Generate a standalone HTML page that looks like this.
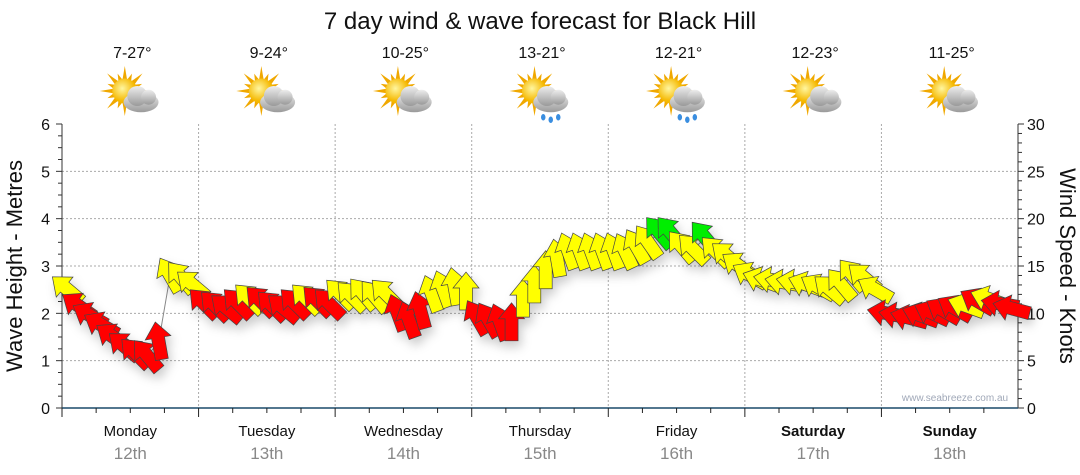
<!DOCTYPE html>
<html><head><meta charset="utf-8"><style>
html,body{margin:0;padding:0;background:#fff;width:1080px;height:475px;overflow:hidden}
svg{display:block;font-family:"Liberation Sans","DejaVu Sans",sans-serif}
</style></head><body>
<svg id="chart" width="1080" height="475" viewBox="0 0 1080 475">
<defs>
<filter id="sh" x="-50%" y="-50%" width="200%" height="200%"><feDropShadow dx="3" dy="6" stdDeviation="5" flood-color="#000" flood-opacity="0.2"/></filter>
<radialGradient id="sun" cx="40%" cy="40%"><stop offset="0" stop-color="#fff6a0"/><stop offset="1" stop-color="#f5b800"/></radialGradient>
<linearGradient id="cloud" x1="0" y1="0" x2="0" y2="1"><stop offset="0" stop-color="#eeeeee"/><stop offset="1" stop-color="#9a9a9a"/></linearGradient>
</defs>
<text x="540" y="29" text-anchor="middle" font-size="24" fill="#111">7 day wind &amp; wave forecast for Black Hill</text>
<g id="grid"></g><g id="axes"></g><g id="icons"></g>
<polyline id="conn" fill="none" stroke="#888" stroke-width="1"/>
<g id="marks" filter="url(#sh)"></g>
<text x="955" y="401" text-anchor="middle" font-size="10" fill="#a0a8b8">www.seabreeze.com.au</text>
<text transform="translate(22,266) rotate(-90)" text-anchor="middle" font-size="22" fill="#111">Wave Height - Metres</text>
<text transform="translate(1060,266) rotate(90)" text-anchor="middle" font-size="22" fill="#111">Wind Speed - Knots</text>
</svg>
<script>
const days=["Monday","Tuesday","Wednesday","Thursday","Friday","Saturday","Sunday"];
const dates=["12th","13th","14th","15th","16th","17th","18th"];
const temps=["7-27°","9-24°","10-25°","13-21°","12-21°","12-23°","11-25°"];
const rainy=[false,false,false,true,true,false,false];
const waveTicks=[0,1,2,3,4,5,6];
const windTicks=[0,5,10,15,20,25,30];
const heights=[2.5,2.15,1.95,1.75,1.5,1.3,1.15,1.1,1.4,2.8,2.75,2.6,
2.2,2.15,2.1,2.2,2.3,2.25,2.15,2.1,2.2,2.3,2.25,2.2,
2.4,2.35,2.4,2.35,2.4,2.0,1.85,2.05,2.4,2.5,2.55,2.45,
1.9,1.85,1.8,1.8,2.3,2.6,2.9,3.15,3.3,3.3,3.3,3.3,
3.3,3.3,3.4,3.5,3.7,3.7,3.4,3.35,3.6,3.3,3.2,3.0,
2.8,2.7,2.7,2.65,2.65,2.6,2.55,2.5,2.6,2.8,2.75,2.5,
2.0,1.95,1.9,1.95,2.0,2.05,2.1,2.15,2.25,2.3,2.2,2.1];
const speeds=[14,9,9,8,8,7,7,7,8,14,15,15,
9,9,9,9,13,9,9,9,9,13,9,9,
13,13,13,13,13,9,9,9,13,14,14,14,
9,9,8,8,13,14,15,15,15,16,16,16,
16,16,17,17,19,19,17,17,19,17,16,15,
14,14,14,13,13,13,13,14,14,15,15,13,
9,9,8,8,9,9,9,13,9,12,10,10];
const dirs=[-50,-55,-60,-60,-55,-50,-45,-40,-10,-30,-40,-50,
-45,-45,-50,-45,-45,-45,-45,-50,-45,-45,-45,-45,
-45,-45,-40,-40,-45,-20,-20,-15,-20,-20,-10,0,
-30,-30,-20,0,0,0,0,-10,-20,-20,-20,-20,
-20,-25,-30,-35,-40,-40,-40,-45,-40,-45,-50,-55,
-60,-70,-80,-80,-80,-70,-60,-50,-40,-40,-50,-60,
-80,-80,-75,-70,-65,-60,-60,-70,-60,-70,-80,-75];
const X0=62,X1=1018,Y0=408,Y1=124,DW=(X1-X0)/7,N=heights.length;
const xT=i=>X0+(i+0.5)*(X1-X0)/N;
const yW=h=>Y0-(h/6)*(Y0-Y1);
const yK=k=>Y0-(k/30)*(Y0-Y1);
const ns="http://www.w3.org/2000/svg";
function mk(t,a,p){const e=document.createElementNS(ns,t);for(const k in a)e.setAttribute(k,a[k]);p.appendChild(e);return e;}
const G=document.getElementById('grid'),A=document.getElementById('axes'),I=document.getElementById('icons'),M=document.getElementById('marks');
waveTicks.forEach(v=>{if(v>0&&v<6){const l=mk('line',{x1:X0,x2:X1,y1:yW(v),y2:yW(v),stroke:'#aaa','stroke-dasharray':'2,2'},G);}
 const t=mk('text',{x:50,y:yW(v)+6,'text-anchor':'end','font-size':16,fill:'#111'},A);t.textContent=v;
 });
windTicks.forEach(v=>{const t=mk('text',{x:1027,y:yK(v)+6,'font-size':16,fill:'#111'},A);t.textContent=v;
 });
for(let q=0;q<=24;q++){const y=yW(q/4);mk('line',{x1:X0-(q%4?4:6),x2:X0,y1:y,y2:y,stroke:'#333'},A);}
for(let k=0;k<=30;k++){const y=yK(k);mk('line',{x1:X1,x2:X1+(k%5?4:6),y1:y,y2:y,stroke:'#333'},A);}
mk('line',{x1:X0,x2:X0,y1:Y1,y2:Y0,stroke:'#333'},A);
mk('line',{x1:X1,x2:X1,y1:Y1,y2:Y0,stroke:'#333'},A);
mk('line',{x1:X0,x2:X1,y1:Y0,y2:Y0,stroke:'#1a4a6a','stroke-width':1.5},A);
for(let d=0;d<7;d++){
 const xs=X0+d*DW;
 if(d>0){const l=mk('line',{x1:xs,x2:xs,y1:Y1,y2:Y0,stroke:'#aaa','stroke-dasharray':'2,2'},G);}
 for(let q=0;q<4;q++){const x=xs+q*DW/4;mk('line',{x1:x,x2:x,y1:Y0,y2:Y0+(q?5:9),stroke:'#222'},A);}
 const cx=xs+DW/2;
 const t1=mk('text',{x:cx,y:436,'text-anchor':'middle','font-size':15,fill:'#111','font-weight':d>=5?'bold':'normal'},A);t1.textContent=days[d];
 
 const t2=mk('text',{x:cx,y:459,'text-anchor':'middle','font-size':17,fill:'#888'},A);t2.textContent=dates[d];
 
 const t3=mk('text',{x:cx+2,y:58,'text-anchor':'middle','font-size':16,fill:'#111'},I);t3.textContent=temps[d];
 
 const g=mk('g',{transform:`translate(${cx+2},96) scale(1.25)`},I);
 
 for(let r=0;r<16;r++){const a=r*22.5,L=(r%2)?15:20;mk('polygon',{points:`-2,-8 2,-8 0,-${L}`,fill:'#f0a800',transform:`translate(-6,-4) rotate(${a})`},g);}
 mk('circle',{cx:-6,cy:-4,r:10,fill:'url(#sun)'},g);
 const c=mk('g',{},g);
 mk('ellipse',{cx:7,cy:5,rx:14,ry:8,fill:'url(#cloud)'},c);
 mk('circle',{cx:4,cy:0,r:8,fill:'url(#cloud)'},c);
 mk('circle',{cx:13,cy:1,r:6,fill:'url(#cloud)'},c);
 if(rainy[d]){[[1,17],[7,19],[13,17]].forEach(p=>mk('ellipse',{cx:p[0],cy:p[1],rx:1.8,ry:2.6,fill:'#3a8ee0'},g));}
}
document.getElementById('conn').setAttribute('points',heights.map((h,i)=>xT(i)+','+yW(h)).join(' '));
const col=s=>s>=18?'#00ee00':(s>=12?'#ffff00':'#ff0000');
for(let i=0;i<N;i++){
 const p=mk('polygon',{points:'0,-20 13,-4 6.5,-4 6.5,18 -6.5,18 -6.5,-4 -13,-4',fill:col(speeds[i]),stroke:'#444','stroke-width':0.7,
  transform:`translate(${xT(i)},${yW(heights[i])}) rotate(${dirs[i]})`},M);
 
 
}
</script>
</body></html>
